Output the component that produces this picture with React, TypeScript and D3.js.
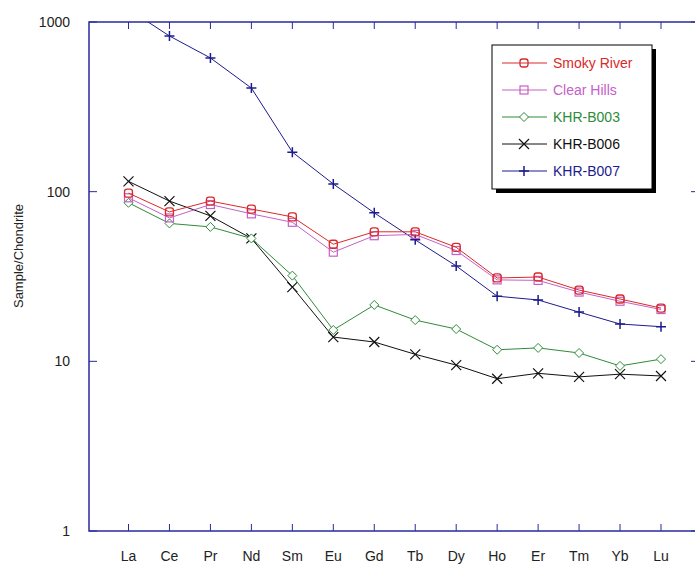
import React from "react"
import * as d3 from "d3"

const elements = ["La", "Ce", "Pr", "Nd", "Sm", "Eu", "Gd", "Tb", "Dy", "Ho", "Er", "Tm", "Yb", "Lu"]
const yTicks = [1, 10, 100, 1000]

const smokyRiver = [98, 76, 88, 79, 71, 49, 58, 58, 47, 31, 31.4, 26.3, 23.3, 20.6]
const clearHills = [92, 70, 84, 74, 66, 44, 55, 56, 45, 30.2, 30, 25.6, 22.6, 20.2]
const khrB003 = [86, 65, 62, 53, 32, 15.3, 21.5, 17.5, 15.5, 11.7, 12, 11.2, 9.4, 10.3]
const khrB006 = [115, 88, 72, 53, 27.4, 13.9, 13, 11, 9.5, 7.9, 8.5, 8.1, 8.4, 8.2]
const khrB007 = [1190, 827, 614, 408, 171, 111, 75, 52, 36.5, 24.2, 23, 19.5, 16.6, 16]

const series = [
  { name: "KHR-B007", values: khrB007, color: "#1c1c8e", marker: "plus" },
  { name: "KHR-B006", values: khrB006, color: "#111111", marker: "x" },
  { name: "KHR-B003", values: khrB003, color: "#2e8b3a", marker: "diamond" },
  { name: "Clear Hills", values: clearHills, color: "#c660c6", marker: "square" },
  { name: "Smoky River", values: smokyRiver, color: "#d92a2a", marker: "circle" },
]
const legendOrder = ["Smoky River", "Clear Hills", "KHR-B003", "KHR-B006", "KHR-B007"]

const axisColor = "#2a2a9c"
const font = "'Liberation Sans', Arial, sans-serif"

function Marker({ type, x, y, color }: { type: string; x: number; y: number; color: string }) {
  const s = 4
  if (type === "circle")
    return <rect x={x - s} y={y - s} width={2 * s} height={2 * s} rx={2.5} fill="none" stroke={color} strokeWidth={1.3} />
  if (type === "square")
    return <rect x={x - s} y={y - s} width={2 * s} height={2 * s} fill="none" stroke={color} strokeWidth={1.2} />
  if (type === "diamond")
    return <path d={`M${x},${y - 4.5}L${x + 4.5},${y}L${x},${y + 4.5}L${x - 4.5},${y}Z`} fill="white" stroke={color} strokeWidth={1} />
  if (type === "x")
    return <path d={`M${x - 5},${y - 5}L${x + 5},${y + 5}M${x - 5},${y + 5}L${x + 5},${y - 5}`} stroke={color} strokeWidth={1.2} />
  return <path d={`M${x - 5},${y}L${x + 5},${y}M${x},${y - 5}L${x},${y + 5}`} stroke={color} strokeWidth={1.5} />
}

export default function App() {
  const left = 89, right = 699, top = 22, bottom = 531
  const x = d3.scalePoint<string>().domain(elements).range([128.5, 661])
  const y = d3.scaleLog().domain([1, 1000]).range([bottom, top])
  const line = d3.line<number>().x((_, i) => x(elements[i])!).y((d) => y(d))

  const lx = 492, ly = 45, lw = 160, lh = 144

  return (
    <svg width={695} height={567} style={{ position: "absolute", left: 0, top: 0, background: "white" }} fontFamily={font}>
      <defs>
        <clipPath id="plot">
          <rect x={left} y={top} width={right - left} height={bottom - top} />
        </clipPath>
      </defs>
      <rect width={695} height={567} fill="white" />

      {/* frame */}
      <rect x={left} y={top} width={right - left} height={bottom - top} fill="none" stroke={axisColor} strokeWidth={1.5} />
      {elements.map((e) => (
        <g key={e}>
          <line x1={x(e)} x2={x(e)} y1={top} y2={top + 7} stroke={axisColor} strokeWidth={1} />
          <line x1={x(e)} x2={x(e)} y1={bottom} y2={bottom - 7} stroke={axisColor} strokeWidth={1} />
          <text x={x(e)} y={561} textAnchor="middle" fontSize={14} fill="#222">{e}</text>
        </g>
      ))}
      {yTicks.map((t) => (
        <g key={t}>
          <line x1={left} x2={left + 8} y1={y(t)} y2={y(t)} stroke={axisColor} strokeWidth={1} />
          <line x1={right} x2={right - 8} y1={y(t)} y2={y(t)} stroke={axisColor} strokeWidth={1} />
          <text x={70} y={y(t) + 5} textAnchor="end" fontSize={14} fill="#222">{t}</text>
        </g>
      ))}
      <text transform="translate(23,256) rotate(-90)" textAnchor="middle" fontSize={13} fill="#222">Sample/Chondrite</text>

      {/* series */}
      <g clipPath="url(#plot)">
        {series.map((s) => (
          <g key={s.name}>
            <path d={line(s.values)!} fill="none" stroke={s.color} strokeWidth={1} />
            {s.values.map((v, i) => (
              <Marker key={i} type={s.marker} x={x(elements[i])!} y={y(v)} color={s.color} />
            ))}
          </g>
        ))}
      </g>

      {/* legend */}
      <rect x={lx + 4} y={ly + 4} width={lw} height={lh} fill="black" />
      <rect x={lx} y={ly} width={lw} height={lh} fill="white" stroke="black" strokeWidth={1} />
      {legendOrder.map((n, i) => {
        const s = series.find((d) => d.name === n)!
        const cy = ly + 18 + i * 27
        return (
          <g key={n}>
            <line x1={lx + 10} x2={lx + 55} y1={cy} y2={cy} stroke={s.color} strokeWidth={1} />
            <Marker type={s.marker} x={lx + 32} y={cy} color={s.color} />
            <text x={lx + 61} y={cy + 5} fontSize={14} fill={s.color}>{n}</text>
          </g>
        )
      })}
    </svg>
  )
}
